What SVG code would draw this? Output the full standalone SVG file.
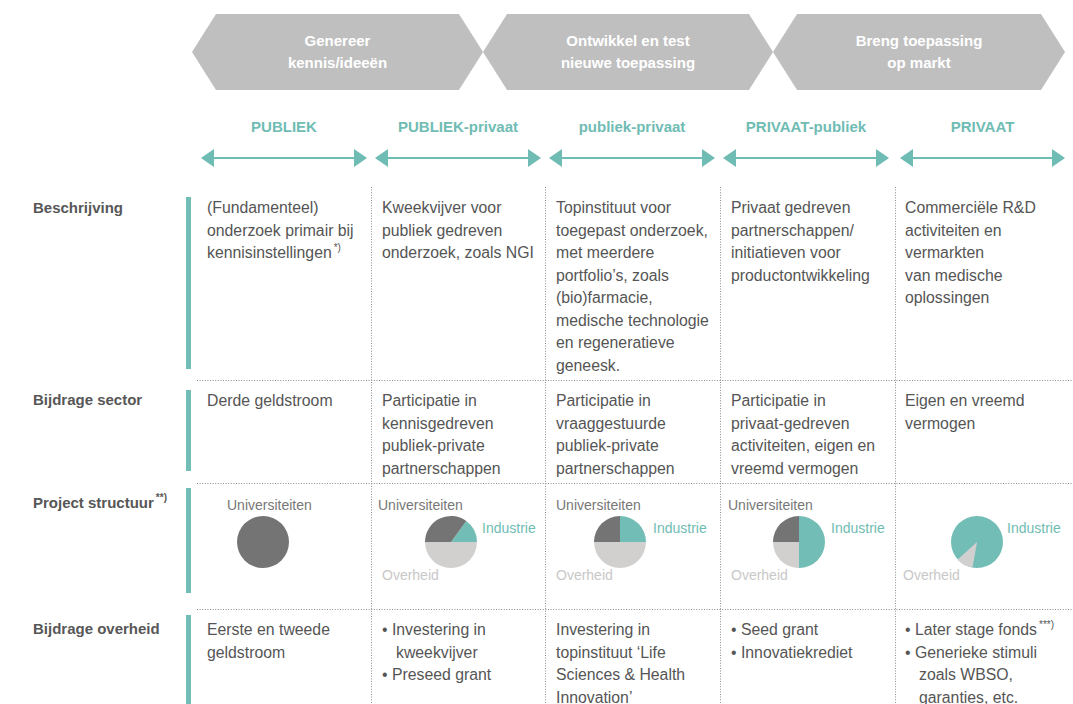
<svg xmlns="http://www.w3.org/2000/svg" width="1073" height="704" viewBox="0 0 1073 704">
<style>
.chev{fill:#bfbfbf}
.ct{font-family:"Liberation Sans",Arial,sans-serif;font-weight:bold;font-size:15px;fill:#ffffff;text-anchor:middle}
.hd{font-family:"Liberation Sans",Arial,sans-serif;font-weight:bold;font-size:15px;fill:#6fbcb4;text-anchor:middle}
.lbl{font-family:"Liberation Sans",Arial,sans-serif;font-weight:bold;font-size:15px;fill:#575757}
.tx{font-family:"Liberation Sans",Arial,sans-serif;font-size:15.8px;fill:#555555}
.sup{font-size:10px}
.pl{font-family:"Liberation Sans",Arial,sans-serif;font-size:14px}
.uni{fill:#777777}
.ind{fill:#6fbcb4}
.ovh{fill:#c8c8c8}
.bar{fill:#72bdb6}
.dot{stroke:#8c8c8c;stroke-width:1;stroke-dasharray:1 1.6;fill:none}
.arr{stroke:#6fbcb4;stroke-width:2;fill:none;marker-start:url(#ah);marker-end:url(#ah)}
.pd{fill:#747474}
.pt{fill:#72bdb6}
.pg{fill:#d1d0cf}
</style>
<defs>
<marker id="ah" markerUnits="userSpaceOnUse" markerWidth="14" markerHeight="20" refX="0" refY="9" orient="auto-start-reverse">
<path d="M0,0 L13,9 L0,18 Z" fill="#6fbcb4"/>
</marker>
</defs>
<rect width="1073" height="704" fill="#ffffff"/>

<g id="phase-1">
<polygon class="chev" points="192,52 216,14 459,14 483,52 459,90 216,90"/>
<text class="ct" x="337.5" y="46">Genereer</text>
<text class="ct" x="337.5" y="68">kennis/ideeën</text>
</g>
<g id="phase-2">
<polygon class="chev" points="483,52 507,14 749,14 773,52 749,90 507,90"/>
<text class="ct" x="628" y="46">Ontwikkel en test</text>
<text class="ct" x="628" y="68">nieuwe toepassing</text>
</g>
<g id="phase-3">
<polygon class="chev" points="773,52 797,14 1041,14 1065,52 1041,90 797,90"/>
<text class="ct" x="919" y="46">Breng toepassing</text>
<text class="ct" x="919" y="68">op markt</text>
</g>

<g id="headers">
<text class="hd" x="284" y="132">PUBLIEK</text>
<text class="hd" x="458" y="132">PUBLIEK-privaat</text>
<text class="hd" x="632" y="132">publiek-privaat</text>
<text class="hd" x="806" y="132">PRIVAAT-publiek</text>
<text class="hd" x="982.5" y="132">PRIVAAT</text>
</g>

<g id="connectors">
<line class="arr" x1="214" y1="158" x2="354" y2="158"/>
<line class="arr" x1="388" y1="158" x2="528" y2="158"/>
<line class="arr" x1="562" y1="158" x2="702" y2="158"/>
<line class="arr" x1="736" y1="158" x2="876" y2="158"/>
<line class="arr" x1="913" y1="158" x2="1052" y2="158"/>
</g>

<g id="grid">
<line class="dot" x1="371.5" y1="187" x2="371.5" y2="704"/>
<line class="dot" x1="545.5" y1="187" x2="545.5" y2="704"/>
<line class="dot" x1="720.5" y1="187" x2="720.5" y2="704"/>
<line class="dot" x1="895.5" y1="187" x2="895.5" y2="704"/>
<line class="dot" x1="197" y1="380.5" x2="1073" y2="380.5"/>
<line class="dot" x1="197" y1="483.5" x2="1073" y2="483.5"/>
<line class="dot" x1="197" y1="609.5" x2="1073" y2="609.5"/>
<rect class="bar" x="186" y="197" width="5" height="172"/>
<rect class="bar" x="186" y="390" width="5" height="81"/>
<rect class="bar" x="186" y="488" width="5" height="105"/>
<rect class="bar" x="186" y="615" width="5" height="89"/>
</g>

<g id="row-beschrijving">
<text class="lbl" x="33" y="213">Beschrijving</text>
<text class="tx" x="207" y="213">(Fundamenteel)</text>
<text class="tx" x="207" y="235.5">onderzoek primair bij</text>
<text class="tx" x="207" y="258">kennisinstellingen<tspan class="sup" dx="2" dy="-7">*)</tspan></text>
<text class="tx" x="382" y="213">Kweekvijver voor</text>
<text class="tx" x="382" y="235.5">publiek gedreven</text>
<text class="tx" x="382" y="258">onderzoek, zoals NGI</text>
<text class="tx" x="556" y="213">Topinstituut voor</text>
<text class="tx" x="556" y="235.5">toegepast onderzoek,</text>
<text class="tx" x="556" y="258">met meerdere</text>
<text class="tx" x="556" y="280.5">portfolio’s, zoals</text>
<text class="tx" x="556" y="303">(bio)farmacie,</text>
<text class="tx" x="556" y="325.5">medische technologie</text>
<text class="tx" x="556" y="348">en regeneratieve</text>
<text class="tx" x="556" y="370.5">geneesk.</text>
<text class="tx" x="731" y="213">Privaat gedreven</text>
<text class="tx" x="731" y="235.5">partnerschappen/</text>
<text class="tx" x="731" y="258">initiatieven voor</text>
<text class="tx" x="731" y="280.5">productontwikkeling</text>
<text class="tx" x="905" y="213">Commerciële R&amp;D</text>
<text class="tx" x="905" y="235.5">activiteiten en</text>
<text class="tx" x="905" y="258">vermarkten</text>
<text class="tx" x="905" y="280.5">van medische</text>
<text class="tx" x="905" y="303">oplossingen</text>
</g>

<g id="row-bijdrage-sector">
<text class="lbl" x="33" y="405">Bijdrage sector</text>
<text class="tx" x="207" y="406">Derde geldstroom</text>
<text class="tx" x="382" y="406">Participatie in</text>
<text class="tx" x="382" y="428.5">kennisgedreven</text>
<text class="tx" x="382" y="451">publiek-private</text>
<text class="tx" x="382" y="473.5">partnerschappen</text>
<text class="tx" x="556" y="406">Participatie in</text>
<text class="tx" x="556" y="428.5">vraaggestuurde</text>
<text class="tx" x="556" y="451">publiek-private</text>
<text class="tx" x="556" y="473.5">partnerschappen</text>
<text class="tx" x="731" y="406">Participatie in</text>
<text class="tx" x="731" y="428.5">privaat-gedreven</text>
<text class="tx" x="731" y="451">activiteiten, eigen en</text>
<text class="tx" x="731" y="473.5">vreemd vermogen</text>
<text class="tx" x="905" y="406">Eigen en vreemd</text>
<text class="tx" x="905" y="428.5">vermogen</text>
</g>

<g id="row-project-structuur">
<text class="lbl" x="33" y="508">Project structuur<tspan class="sup" dx="2" dy="-7">**)</tspan></text>
</g>
<g id="pie-1">
<text class="pl uni" x="227" y="510">Universiteiten</text>
<circle class="pd" cx="263" cy="542" r="26"/>
</g>
<g id="pie-2">
<text class="pl uni" x="378" y="510">Universiteiten</text>
<path class="pg" d="M451,542 L425,542 A26,26 0 0 0 477,542 Z"/>
<path class="pt" d="M451,542 L477,542 A26,26 0 0 0 466.3,521 Z"/>
<path class="pd" d="M451,542 L466.3,521 A26,26 0 0 0 425,542 Z"/>
<text class="pl ind" x="482" y="533">Industrie</text>
<text class="pl ovh" x="382" y="580">Overheid</text>
</g>
<g id="pie-3">
<text class="pl uni" x="556" y="510">Universiteiten</text>
<path class="pg" d="M620,542 L594,542 A26,26 0 0 0 646,542 Z"/>
<path class="pt" d="M620,542 L646,542 A26,26 0 0 0 620,516 Z"/>
<path class="pd" d="M620,542 L620,516 A26,26 0 0 0 594,542 Z"/>
<text class="pl ind" x="653" y="533">Industrie</text>
<text class="pl ovh" x="556" y="580">Overheid</text>
</g>
<g id="pie-4">
<text class="pl uni" x="728" y="510">Universiteiten</text>
<path class="pt" d="M799,516 A26,26 0 0 1 799,568 Z"/>
<path class="pd" d="M799,542 L799,516 A26,26 0 0 0 773,542 Z"/>
<path class="pg" d="M799,542 L773,542 A26,26 0 0 0 799,568 Z"/>
<text class="pl ind" x="831" y="533">Industrie</text>
<text class="pl ovh" x="731" y="580">Overheid</text>
</g>
<g id="pie-5">
<circle class="pt" cx="977" cy="542" r="26"/>
<path class="pg" d="M977,542 L972.5,567.6 A26,26 0 0 1 957.7,559.4 Z"/>
<text class="pl ind" x="1007" y="533">Industrie</text>
<text class="pl ovh" x="903" y="580">Overheid</text>
</g>

<g id="row-bijdrage-overheid">
<text class="lbl" x="33" y="634">Bijdrage overheid</text>
<text class="tx" x="207" y="635">Eerste en tweede</text>
<text class="tx" x="207" y="657.5">geldstroom</text>
<text class="tx" x="382" y="635">• Investering in</text>
<text class="tx" x="396" y="657.5">kweekvijver</text>
<text class="tx" x="382" y="680">• Preseed grant</text>
<text class="tx" x="556" y="635">Investering in</text>
<text class="tx" x="556" y="657.5">topinstituut ‘Life</text>
<text class="tx" x="556" y="680">Sciences &amp; Health</text>
<text class="tx" x="556" y="702.5">Innovation’</text>
<text class="tx" x="731" y="635">• Seed grant</text>
<text class="tx" x="731" y="657.5">• Innovatiekrediet</text>
<text class="tx" x="905" y="635">• Later stage fonds<tspan class="sup" dx="2" dy="-7">***)</tspan></text>
<text class="tx" x="905" y="657.5">• Generieke stimuli</text>
<text class="tx" x="919" y="680">zoals WBSO,</text>
<text class="tx" x="919" y="702.5">garanties, etc.</text>
</g>
</svg>
